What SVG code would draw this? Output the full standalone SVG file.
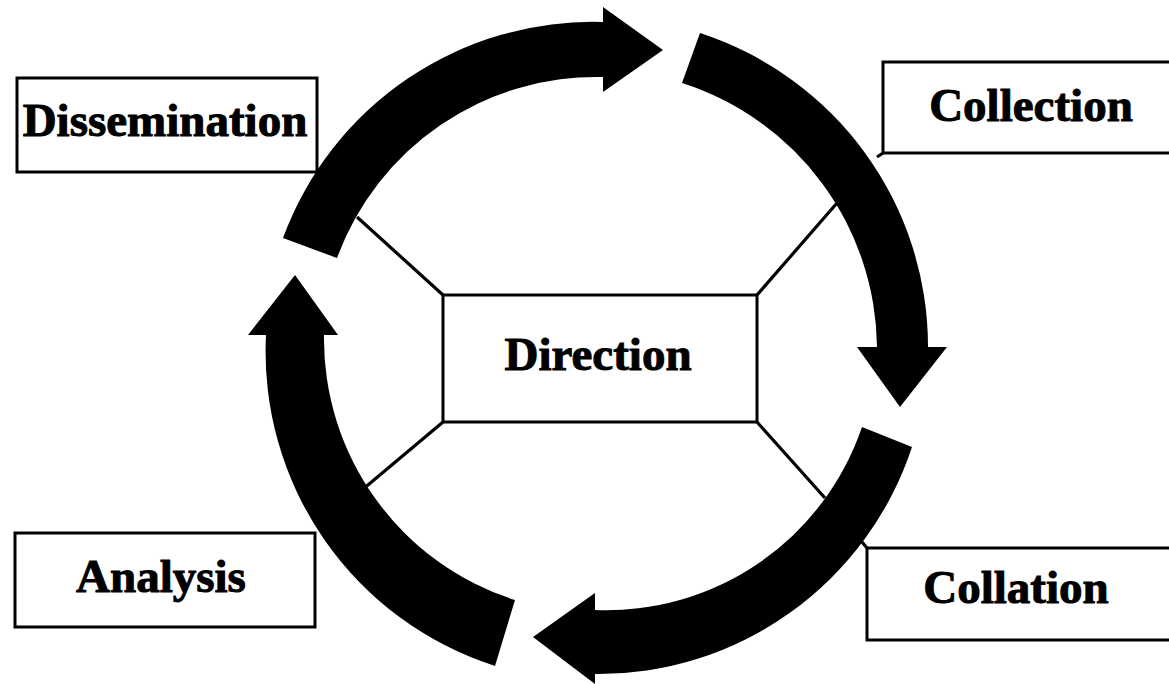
<svg xmlns="http://www.w3.org/2000/svg" width="1169" height="684" viewBox="0 0 1169 684">
<style>
.box{fill:#fff;stroke:#000;stroke-width:3}
.lbl{font-family:"Liberation Serif","Times New Roman",serif;font-weight:bold;font-size:47px;fill:#000;stroke:#000;stroke-width:1;text-anchor:middle}
.arrow{fill:#000;stroke:none}
.con{stroke:#000;stroke-width:3.2;fill:none}
</style>
<rect width="1169" height="684" fill="#fff"/>
<g id="arrows">
<path class="arrow" d="M283,238 A330,330 0 0 1 603,22 L603,7 L663,50 L603,92 L603,77 A276,276 0 0 0 337,258 Z"/>
<path class="arrow" d="M700,33 A330,330 0 0 1 928,347 L947,347 L900,407 L857,347 L877,347 A280,280 0 0 0 682,83 Z"/>
<path class="arrow" d="M912,447 A330,330 0 0 1 595,674 L595,684 L533,637 L595,593 L595,610 A270,270 0 0 0 862,427 Z"/>
<path class="arrow" d="M495,666 A330,330 0 0 1 266,335 L248,335 L295,275 L338,335 L324,335 A274,274 0 0 0 515,600 Z"/>
</g>
<g id="connectors">
<line class="con" x1="443" y1="295" x2="357" y2="217"/>
<line class="con" x1="757" y1="295" x2="837" y2="203"/>
<line class="con" x1="757" y1="422" x2="825" y2="498"/>
<line class="con" x1="443" y1="422" x2="362" y2="490"/>
<line class="con" x1="877" y1="157" x2="883" y2="153"/>
<line class="con" x1="862" y1="542" x2="867" y2="548"/>
</g>
<g id="direction">
<rect class="box" x="443" y="295" width="314" height="127"/>
<text class="lbl" x="598" y="370">Direction</text>
</g>
<g id="dissemination">
<rect class="box" x="17" y="78" width="300" height="94"/>
<text class="lbl" x="165" y="136">Dissemination</text>
</g>
<g id="collection">
<rect class="box" x="883" y="62" width="290" height="91"/>
<text class="lbl" x="1031" y="121">Collection</text>
</g>
<g id="collation">
<rect class="box" x="867" y="548" width="306" height="92"/>
<text class="lbl" x="1016" y="603">Collation</text>
</g>
<g id="analysis">
<rect class="box" x="15" y="533" width="300" height="94"/>
<text class="lbl" x="161" y="592">Analysis</text>
</g>
</svg>
